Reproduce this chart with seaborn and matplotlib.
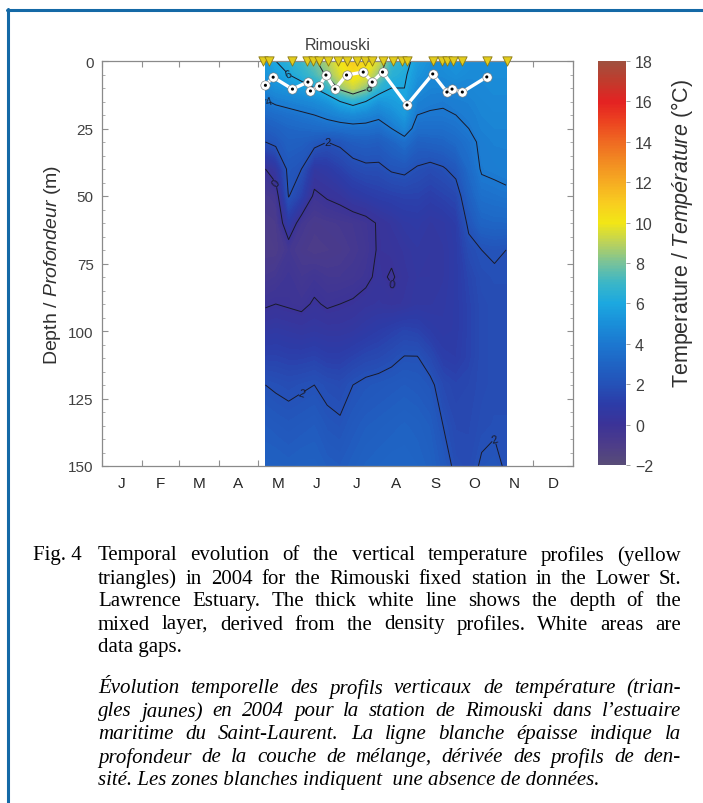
import numpy as np
import matplotlib
matplotlib.use("Agg")
import matplotlib.pyplot as plt
import seaborn as sns
from matplotlib.colors import LinearSegmentedColormap, Normalize
from matplotlib.lines import Line2D
import matplotlib.cm as cm

# ---------------- data ----------------
month_labels = ["J", "F", "M", "A", "M", "J", "J", "A", "S", "O", "N", "D"]
month_starts = [0, 31, 60, 91, 121, 152, 182, 213, 244, 274, 305, 335, 366]

grid_days = [127, 135, 145, 155, 165, 175, 185, 195, 205, 215,
             225, 235, 245, 255, 265, 275, 285, 295, 305, 314]
grid_depths = [0, 5, 10, 15, 20, 25, 30, 40, 50, 60, 70, 80, 90, 100, 110, 120, 135, 150]

t_0   = [5.5, 6.0, 6.5, 7.0, 7.8, 8.8, 10.0, 11.0, 10.5, 9.3, 7.0, 6.5, 5.5, 5.0, 5.0, 5.2, 5.0, 5.0, 5.0, 5.0]
t_5   = [5.2, 5.6, 6.0, 6.5, 7.2, 8.2, 9.5, 10.3, 9.8, 8.3, 6.5, 6.2, 5.2, 4.8, 4.8, 5.0, 4.8, 4.8, 4.9, 4.9]
t_10  = [4.6, 5.0, 5.2, 5.5, 6.0, 6.8, 8.3, 9.2, 8.3, 6.7, 6.0, 6.0, 4.8, 4.5, 4.5, 4.6, 4.6, 4.7, 4.8, 4.8]
t_15  = [3.9, 4.2, 4.4, 4.6, 4.8, 5.2, 6.0, 6.5, 6.0, 5.2, 5.5, 5.8, 4.4, 4.2, 4.1, 4.3, 4.4, 4.6, 4.7, 4.7]
t_20  = [3.2, 3.4, 3.6, 3.8, 4.0, 4.3, 4.6, 4.8, 4.6, 4.3, 4.8, 5.4, 4.0, 3.9, 3.9, 4.0, 4.2, 4.5, 4.6, 4.6]
t_25  = [2.6, 2.8, 3.1, 3.2, 3.3, 3.4, 3.5, 3.6, 3.6, 3.4, 4.0, 4.7, 3.5, 3.5, 3.5, 3.7, 4.0, 4.4, 4.5, 4.5]
t_30  = [2.0, 2.3, 2.8, 2.7, 2.4, 2.0, 2.2, 2.6, 2.7, 2.6, 3.0, 3.5, 2.8, 2.9, 3.0, 3.3, 3.7, 4.2, 4.4, 4.4]
t_40  = [0.0, 0.5, 2.3, 2.0, 0.6, 0.8, 1.2, 1.6, 1.8, 1.8, 2.1, 2.2, 1.9, 1.7, 1.9, 2.3, 3.3, 4.1, 4.2, 4.3]
t_50  = [-0.7, -0.5, 2.05, 1.2, -0.2, 0.1, 0.3, 0.7, 0.9, 1.1, 1.2, 1.3, 1.3, 1.1, 1.3, 1.5, 2.8, 3.6, 3.7, 3.8]
t_60  = [-1.0, -0.9, 0.8, -0.5, -0.8, -0.7, -0.6, -0.5, -0.3, 0.1, 0.4, 0.7, 0.8, 0.6, 0.7, 1.0, 2.2, 3.0, 3.1, 3.1]
t_70  = [-1.0, -1.0, -0.5, -0.8, -1.0, -0.9, -0.8, -0.6, -0.4, 0.1, 0.2, 0.4, 0.6, 0.5, 0.6, 0.9, 1.7, 2.0, 2.1, 2.0]
t_80  = [-0.6, -0.5, -0.2, -0.5, -0.3, -0.5, -0.5, -0.4, -0.2, 0.2, -0.1, 0.3, 0.5, 0.5, 0.6, 0.9, 1.4, 1.8, 1.9, 1.9]
t_90  = [-0.1, 0.0, -0.1, -0.2, 0.1, -0.1, 0.0, 0.1, 0.3, 0.4, 0.3, 0.4, 0.6, 0.6, 0.7, 0.9, 1.3, 1.7, 1.8, 1.8]
t_100 = [0.6, 0.7, 0.6, 0.5, 0.6, 0.5, 0.5, 0.6, 0.8, 1.0, 1.2, 1.4, 1.3, 1.0, 0.8, 0.9, 1.3, 1.7, 1.8, 1.8]
t_110 = [1.3, 1.3, 1.2, 1.2, 1.3, 1.1, 1.1, 1.3, 1.5, 1.6, 1.8, 2.05, 2.05, 1.6, 1.1, 1.0, 1.3, 1.7, 1.8, 1.8]
t_120 = [2.0, 1.9, 1.8, 1.9, 2.0, 1.8, 1.7, 2.0, 2.2, 2.3, 2.4, 2.5, 2.4, 2.2, 1.6, 1.4, 1.5, 1.7, 1.8, 1.8]
t_135 = [2.5, 2.4, 2.3, 2.4, 2.5, 2.2, 2.1, 2.4, 2.6, 2.7, 2.8, 2.9, 2.8, 2.6, 2.0, 1.6, 1.6, 1.8, 1.9, 1.9]
t_150 = [2.8, 2.8, 2.7, 2.8, 2.8, 2.6, 2.5, 2.7, 2.9, 3.0, 3.1, 3.1, 3.0, 2.8, 2.4, 1.8, 1.7, 2.1, 2.2, 1.9]

temperature = np.array([t_0, t_5, t_10, t_15, t_20, t_25, t_30, t_40, t_50, t_60, t_70,
                        t_80, t_90, t_100, t_110, t_120, t_135, t_150])

profile_days = [125, 130, 148, 159, 164, 169, 176, 183, 190, 198, 204, 210,
                218, 226, 233, 237, 257, 264, 268, 273, 280, 299, 315]
profile_depth = [0] * len(profile_days)

ml_days = [127, 133, 148, 160, 162, 169, 174, 181, 190, 203, 210, 218, 237, 257, 268, 272, 280, 299]
ml_depth = [9.0, 6.0, 10.4, 7.8, 11.1, 9.3, 5.2, 10.4, 5.2, 4.1, 7.8, 4.1, 16.3, 4.8, 11.5, 10.4, 11.5, 5.9]

cbar_ticks = list(range(-2, 19, 2))

# ---------------- style ----------------
sns.set_theme(style="ticks")
plt.rcParams["font.family"] = ["Liberation Sans", "DejaVu Sans"]
plt.rcParams["mathtext.fontset"] = "custom"
plt.rcParams["mathtext.rm"] = "Liberation Sans"
plt.rcParams["mathtext.it"] = "Liberation Sans:italic"

W, H = 703, 804
fig = plt.figure(figsize=(W / 100, H / 100), dpi=100)
fig.patch.set_facecolor("white")

def fx(px):
    return px / W

def fy(py):
    return 1 - py / H

ax = fig.add_axes([fx(102), fy(467), fx(573) - fx(102), fy(62) - fy(467)])
ax.set_facecolor("white")

cmap = LinearSegmentedColormap.from_list("tcmap", [
    (0.00, "#584c78"), (0.05, "#4c3c8a"), (0.10, "#3b3398"), (0.15, "#2c3ca8"),
    (0.20, "#2452b8"), (0.25, "#1f64c4"), (0.30, "#1c78d0"), (0.35, "#1a8fd9"),
    (0.40, "#1ca8e0"), (0.45, "#3ab6c8"), (0.50, "#78c29a"), (0.55, "#bcd25a"),
    (0.60, "#f2e616"), (0.65, "#f8cc20"), (0.70, "#f6ac22"), (0.75, "#f28c22"),
    (0.80, "#ef6a22"), (0.85, "#ec4420"), (0.90, "#e42222"), (0.95, "#c23a2c"),
    (1.00, "#a0503e")])

levels = np.linspace(-2, 18, 161)
ax.contourf(grid_days, grid_depths, temperature, levels=levels, cmap=cmap,
            extend="both", zorder=1)
cs = ax.contour(grid_days, grid_depths, temperature, levels=[0, 2, 4, 6, 8],
                colors="#1a1a2a", linewidths=0.7, zorder=2)
ax.clabel(cs, fmt="%d", fontsize=8, inline=True, inline_spacing=2)

sns.lineplot(x=ml_days, y=ml_depth, sort=False, estimator=None, color="white",
             lw=2.4, ax=ax, zorder=4)
sns.scatterplot(x=ml_days, y=ml_depth, s=45, color="white", edgecolor="#707070",
                linewidth=0.4, ax=ax, zorder=5, legend=False)
sns.scatterplot(x=ml_days, y=ml_depth, s=5, color="black", edgecolor="none",
                ax=ax, zorder=6, legend=False)
sns.scatterplot(x=profile_days, y=profile_depth, marker="v", s=45, color="#e2cc1c",
                edgecolor="#8a7a18", linewidth=0.6, ax=ax, zorder=7,
                legend=False, clip_on=False)

ax.set_xlim(0, 366)
ax.set_ylim(150, 0)
ax.set_xticks(month_starts)
ax.set_xticklabels([])
ax.set_xticks([(a + b) / 2 for a, b in zip(month_starts[:-1], month_starts[1:])], minor=True)
ax.set_xticklabels(month_labels, minor=True)
ax.tick_params(axis="x", which="minor", length=0, pad=7)
ax.tick_params(axis="x", which="major", direction="in", length=4, top=True,
               color="#909090", width=0.8)
ax.set_yticks([0, 25, 50, 75, 100, 125, 150])
ax.set_yticks(np.arange(0, 151, 5), minor=True)
ax.tick_params(axis="y", which="major", direction="in", length=4, right=True,
               color="#909090", width=0.8, pad=6)
ax.tick_params(axis="y", which="minor", direction="in", length=2, right=True,
               color="#a0a0a0", width=0.6)
ax.tick_params(labelsize=11, labelcolor="#404040")
for sp in ax.spines.values():
    sp.set_color("#8a8a8a")
    sp.set_linewidth(0.9)
ax.set_xlabel("")
ax.set_ylabel(r"Depth / $\mathit{Profondeur}$ (m)", fontsize=14, color="#303030", labelpad=4)
ax.set_title("Rimouski", fontsize=11.5, color="#404040", pad=9)

# colorbar
cax = fig.add_axes([fx(598), fy(466), fx(626) - fx(598), fy(62) - fy(466)])
sm = cm.ScalarMappable(norm=Normalize(-2, 18), cmap=cmap)
cb = fig.colorbar(sm, cax=cax, ticks=cbar_ticks)
cb.outline.set_visible(False)
cax.tick_params(labelsize=11.5, labelcolor="#404040", length=3, color="#909090",
                direction="out", width=0.6)
cb.set_label(r"Temperature / $\mathit{Température}$ (°C)", fontsize=15.5,
             color="#303030")
cax.yaxis.set_label_coords(fx(669 - 598) / fx(28), 0.575)

# blue frame
frame_col = "#1469a6"
fig.add_artist(Line2D([fx(8), fx(8)], [fy(10), 0], color=frame_col, lw=2.2))
fig.add_artist(Line2D([fx(7), 1], [fy(10.5), fy(10.5)], color=frame_col, lw=2.2))

# ---------------- caption ----------------
cap_en = ["Temporal evolution of the vertical temperature profiles (yellow",
          "triangles) in 2004 for the Rimouski fixed station in the Lower St.",
          "Lawrence Estuary. The thick white line shows the depth of the",
          "mixed layer, derived from the density profiles. White areas are",
          "data gaps."]
cap_fr = ["Évolution temporelle des profils verticaux  de température (trian-",
          "gles jaunes) en 2004 pour la station de Rimouski dans l’estuaire",
          "maritime du Saint-Laurent. La ligne blanche épaisse indique la",
          "profondeur de la couche de mélange, dérivée des profils de den-",
          "sité. Les zones blanches indiquent  une absence de données."]

renderer = fig.canvas.get_renderer()
serif = ["Liberation Serif"]

def measure(s, fs, style):
    t = fig.text(0, 0, s, fontsize=fs, family=serif, style=style)
    w = t.get_window_extent(renderer).width
    t.remove()
    return w

X0, X1 = 98, 681
base_fs = 14

def fit(lines, style):
    nat = max(measure(s, base_fs, style) for s in lines[:-1])
    return min(base_fs * (X1 - X0 - 4) / nat, 15.0)

fs_en = fit(cap_en, "normal")
fs_fr = fit(cap_fr, "italic")

def put_line(s, y, style, fs, justify):
    if not justify:
        fig.text(fx(X0), fy(y), s, fontsize=fs, family=serif, style=style,
                 va="center", ha="left", color="#000000")
        return
    words = s.split()
    ws = [measure(w, fs, style) for w in words]
    gap = (X1 - X0 - sum(ws)) / (len(words) - 1)
    x = X0
    for w, wd in zip(words, ws):
        fig.text(fx(x), fy(y), w, fontsize=fs, family=serif, style=style,
                 va="center", ha="left", color="#000000")
        x += wd + gap

fig.text(fx(33), fy(556), "Fig. 4", fontsize=fs_en, family=serif, va="center",
         ha="left", color="#000000")
for i, s in enumerate(cap_en):
    put_line(s, 556 + 23 * i, "normal", fs_en, i < len(cap_en) - 1)
for i, s in enumerate(cap_fr):
    put_line(s, 689 + 23 * i, "italic", fs_fr, i < len(cap_fr) - 1)

fig.savefig("out.png", dpi=100, facecolor="white")
